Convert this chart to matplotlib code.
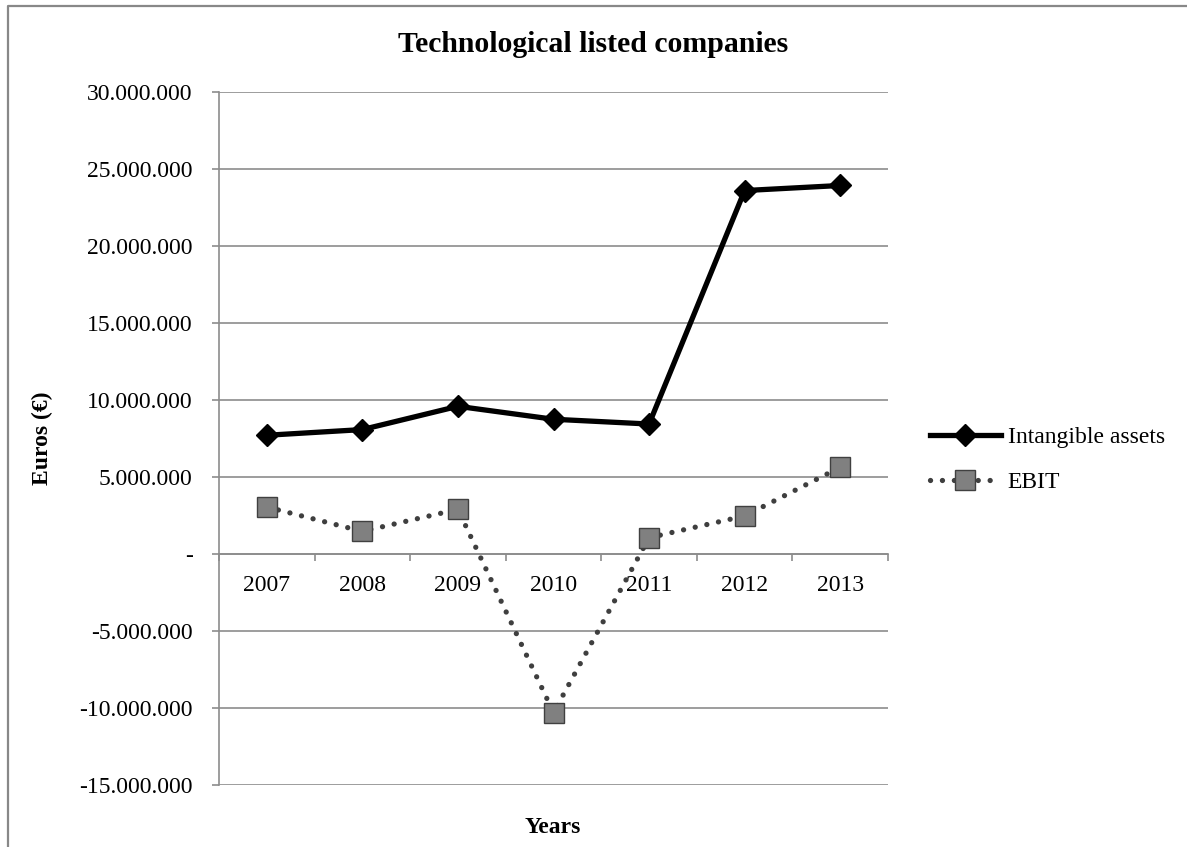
import matplotlib
matplotlib.use("Agg")
import matplotlib.pyplot as plt
from matplotlib.lines import Line2D
from matplotlib.ticker import FuncFormatter, FixedLocator

plt.rcParams['font.family'] = ['Liberation Serif', 'DejaVu Serif']

years = ['2007', '2008', '2009', '2010', '2011', '2012', '2013']
intangible = [7710000, 8080000, 9590000, 8750000, 8440000, 23600000, 23930000]
ebit = [3050000, 1470000, 2900000, -10300000, 1060000, 2470000, 5630000]

GRID = '#8c8c8c'
FS = 17


def euro_fmt(v, pos):
    if abs(v) < 1:
        return '-'
    s = '{:,.0f}'.format(v).replace(',', '.')
    return s


fig = plt.figure(figsize=(11.87, 8.47), dpi=100)
ax = fig.add_axes([219 / 1187, 1 - 785 / 847, (888 - 219) / 1187, (785 - 92) / 847])

x = list(range(len(years)))
ax.plot(x, intangible, color='black', linewidth=3.8, marker='D', markersize=11,
        markerfacecolor='black', markeredgecolor='black', label='Intangible assets',
        zorder=4)
ax.plot(x, ebit, color='#3f3f3f', linewidth=3.8, linestyle=(0, (0.01, 2.25)),
        dash_capstyle='round', marker='s', markersize=14,
        markerfacecolor='#808080', markeredgecolor='#404040', markeredgewidth=1.0,
        label='EBIT', zorder=3)

ax.set_xlim(-0.5, len(years) - 0.5)
ax.set_ylim(-15000000, 30000000)
ax.set_yticks(range(-15000000, 30000001, 5000000))
ax.yaxis.set_major_formatter(FuncFormatter(euro_fmt))
ax.grid(axis='y', color=GRID, linewidth=1.2)
ax.set_axisbelow(True)

# category axis sits on zero, tick marks between categories
ax.spines['bottom'].set_position(('data', 0))
ax.spines['bottom'].set_color(GRID)
ax.spines['bottom'].set_linewidth(1.2)
ax.spines['left'].set_color(GRID)
ax.spines['left'].set_linewidth(1.2)
ax.spines['top'].set_visible(False)
ax.spines['right'].set_visible(False)

ax.set_xticks(x)
ax.set_xticklabels(years)
ax.xaxis.set_minor_locator(FixedLocator([i - 0.5 for i in range(len(years) + 1)]))
ax.tick_params(axis='x', which='major', length=0, pad=15, labelsize=FS)
ax.tick_params(axis='x', which='minor', length=5, width=1.2, color=GRID, direction='out')
ax.tick_params(axis='y', length=5, width=1.2, color=GRID, pad=14, labelsize=FS)

fig.text(0.5, 1 - 45 / 847, 'Technological listed companies', ha='center', va='center',
         fontsize=21.4, fontweight='bold')
fig.text(42 / 1187, 1 - 438 / 847, 'Euros (€)', ha='center', va='center',
         rotation=90, fontsize=FS, fontweight='bold')
fig.text(553 / 1187, 1 - 827 / 847, 'Years', ha='center', va='center',
         fontsize=FS, fontweight='bold')

fig.legend(loc='center left', bbox_to_anchor=(918 / 1187, 1 - 460 / 847),
           frameon=False, fontsize=FS, numpoints=1, handlelength=3.0,
           handletextpad=0.3, labelspacing=1.0, borderpad=0)

# chart frame
fig.add_artist(Line2D([8 / 1187, 8 / 1187, 1.0], [0.0, 1 - 6 / 847, 1 - 6 / 847],
                      transform=fig.transFigure, color='#888888', linewidth=1.6))

fig.savefig('out.png', dpi=100)
